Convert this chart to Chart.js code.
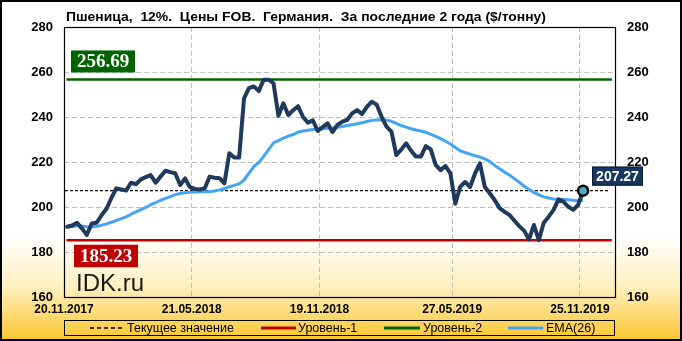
<!DOCTYPE html>
<html><head><meta charset="utf-8">
<script src="https://cdn.jsdelivr.net/npm/chart.js@4.4.0/dist/chart.umd.min.js"></script>
<style>html,body{margin:0;padding:0;background:#fff;overflow:hidden;}</style>
</head><body>
<canvas id="c" width="682" height="341"></canvas>
<script>
const titleText = 'Пшеница,  12%.  Цены FOB.  Германия.  За последние 2 года ($/тонну)';
const tickDays = [0, 182, 364, 553, 735];
const tickLabels = ['20.11.2017', '21.05.2018', '19.11.2018', '27.05.2019', '25.11.2019'];
const firstPointDay = 4.5;
const stepDays = 7;
const price = [
  191.2, 191.8, 193.0, 190.5, 187.6, 192.7, 193.0, 196.3, 199.2, 204.0,
  208.3, 207.8, 207.3, 210.8, 210.1, 212.3, 213.3, 214.2, 210.8, 213.5,
  216.1, 215.5, 215.0, 209.8, 212.7, 208.8, 208.0, 207.8, 208.3, 213.5,
  213.0, 212.8, 210.5, 223.9, 222.0, 222.0, 248.3, 252.8, 253.6, 251.5,
  256.6, 256.6, 255.0, 240.5, 246.1, 240.9, 243.0, 244.8, 240.0, 237.5,
  238.5, 233.8, 235.5, 237.2, 233.3, 236.5, 237.9, 238.7, 241.6, 243.1,
  241.3, 244.5, 246.8, 245.5, 240.1, 235.7, 233.5, 223.1, 225.5, 228.3,
  225.0, 222.4, 222.4, 227.1, 225.6, 218.7, 216.4, 218.2, 214.9, 201.5,
  209.0, 211.1, 208.9, 214.8, 219.4, 209.0, 206.1, 203.1, 199.5, 197.9,
  196.5, 194.0, 191.5, 189.5, 185.6, 192.0, 185.3, 193.0, 195.7, 198.7,
  203.4, 202.4, 200.1, 198.7, 200.9, 207.27
];
const ema = [
  191.2, 191.3, 191.6, 191.6, 191.2, 191.1, 191.4, 191.9, 192.5, 193.2,
  194.0, 194.8, 195.6, 196.8, 197.8, 198.8, 199.8, 201.0, 201.9, 203.0,
  203.8, 204.6, 205.5, 206.0, 206.3, 206.5, 206.7, 206.8, 206.8, 206.8,
  207.1, 207.6, 208.2, 209.0, 209.6, 210.3, 212.0, 215.0, 218.0, 219.8,
  222.5, 225.5, 228.5, 229.5, 230.6, 231.5, 232.2, 233.3, 233.8, 234.1,
  234.4, 234.6, 234.8, 235.0, 235.1, 235.4, 235.8, 236.2, 236.6, 237.0,
  237.4, 238.0, 238.5, 238.7, 238.8, 238.6, 238.1, 237.2, 236.2, 235.5,
  234.8, 234.2, 233.8, 233.2, 232.3, 231.4, 230.4, 229.2, 228.0, 226.4,
  225.0, 224.2, 223.5, 222.8, 222.2, 221.4, 220.2, 218.5, 217.0, 215.6,
  214.2, 212.6, 211.0, 209.3, 207.8, 206.5, 205.4, 204.5, 204.0, 203.6,
  203.4, 203.3, 203.2, 203.0, 202.8, 203.0
];
const level1 = 185.23;
const level2 = 256.69;
const currentValue = 207.27;
const yMin = 160, yMax = 280, yStep = 20;
const legendLabels = ['Текущее значение', 'Уровень-1', 'Уровень-2', 'EMA(26)'];

const xAt = i => firstPointDay + stepDays * i;
const lvlStart = 3.5, lvlEnd = 780.5;

const decor = {
  id: 'decor',
  beforeDraw(chart) {
    const ctx = chart.ctx, W = chart.width, H = chart.height;
    ctx.save();
    const g = ctx.createLinearGradient(0, 0, 0, H);
    g.addColorStop(0, '#ffffff');
    g.addColorStop(0.69, '#ffffff');
    g.addColorStop(0.84, '#fff0c0');
    g.addColorStop(1, '#fbc52b');
    ctx.fillStyle = g;
    ctx.fillRect(0, 0, W, H);
    ctx.restore();
  },
  afterDraw(chart) {
    const ctx = chart.ctx, a = chart.chartArea, ys = chart.scales.y;
    ctx.save();
    ctx.strokeStyle = '#000'; ctx.lineWidth = 1.2; ctx.setLineDash([]);
    ctx.strokeRect(Math.round(a.left) + 0.5, Math.round(a.top) + 0.5, Math.round(a.right - a.left), Math.round(a.bottom - a.top));
    ctx.lineWidth = 2;
    ctx.strokeRect(1, 1, chart.width - 2, chart.height - 2);
    ctx.fillStyle = '#000';
    ctx.font = 'bold 13px "Liberation Sans"';
    ctx.textBaseline = 'alphabetic'; ctx.textAlign = 'left';
    const tw = ctx.measureText(titleText).width;
    ctx.save(); ctx.translate(66, 20.5); ctx.scale(480 / tw, 1);
    ctx.fillText(titleText, 0, 0); ctx.restore();
    ctx.font = '24px "Liberation Sans"'; ctx.fillStyle = '#1a1a1a';
    ctx.fillText('IDK.ru', 76, 291);
    const box = (x, y, w, h, fill, text, font, stroke) => {
      ctx.fillStyle = fill; ctx.fillRect(x, y, w, h);
      if (stroke) { ctx.strokeStyle = stroke; ctx.lineWidth = 1; ctx.strokeRect(x + 0.5, y + 0.5, w - 1, h - 1); }
      ctx.fillStyle = '#fff'; ctx.font = font; ctx.textAlign = 'center'; ctx.textBaseline = 'middle';
      ctx.fillText(text, x + w / 2, y + h / 2 + 1);
    };
    const p2 = ys.getPixelForValue(level2);
    box(71, p2 - 29, 64, 22, '#006400', level2.toFixed(2), 'bold 19px "Liberation Serif"');
    const p1 = ys.getPixelForValue(level1);
    box(74, p1 + 4.5, 64, 22.5, '#c00000', level1.toFixed(2), 'bold 19px "Liberation Serif"');
    const pc = ys.getPixelForValue(currentValue);
    box(592, pc - 24, 51, 19, '#17375e', currentValue.toFixed(2), 'bold 14px "Liberation Sans"', '#0a1a2e');
    ctx.textAlign = 'left'; ctx.textBaseline = 'middle';
    ctx.strokeStyle = '#000'; ctx.lineWidth = 1;
    ctx.strokeRect(64.5, 320.5, 550, 15);
    const ly = 328;
    const items = [
      {x0: 90, x1: 122, tx: 127, color: '#000', w: 1.3, dash: [4, 3]},
      {x0: 261, x1: 296, tx: 298, color: '#c00000', w: 3, dash: []},
      {x0: 384, x1: 420, tx: 423, color: '#006400', w: 3, dash: []},
      {x0: 508, x1: 543, tx: 546, color: '#45a5f5', w: 3, dash: []}
    ];
    ctx.font = '12.5px "Liberation Sans"';
    items.forEach((it, k) => {
      ctx.beginPath(); ctx.setLineDash(it.dash); ctx.strokeStyle = it.color; ctx.lineWidth = it.w;
      ctx.moveTo(it.x0, ly); ctx.lineTo(it.x1, ly); ctx.stroke();
      ctx.setLineDash([]);
      ctx.fillStyle = '#000';
      ctx.fillText(legendLabels[k], it.tx, ly + 0.5);
    });
    ctx.restore();
  }
};

const tickFont = {family: 'Liberation Sans', weight: 'bold', size: 13};

new Chart(document.getElementById('c'), {
  type: 'line',
  data: {
    datasets: [
      {
        label: 'Цена', data: price.map((v, i) => ({x: xAt(i), y: v})),
        borderColor: '#1f3a5c', borderWidth: 4, tension: 0,
        borderJoinStyle: 'round', borderCapStyle: 'round',
        pointRadius: c => c.dataIndex === price.length - 1 ? 5 : 0,
        pointHoverRadius: 0,
        pointBackgroundColor: '#4bacc6', pointBorderColor: '#000', pointBorderWidth: 2.5,
        order: 1, yAxisID: 'y'
      },
      {
        label: legendLabels[3], data: ema.map((v, i) => ({x: xAt(i), y: v})),
        borderColor: '#45a5f5', borderWidth: 3, tension: 0, pointRadius: 0,
        borderJoinStyle: 'round', order: 2, yAxisID: 'y'
      },
      {
        label: legendLabels[0], data: [{x: 1.4, y: currentValue}, {x: 777.5, y: currentValue}],
        borderColor: '#000', borderWidth: 1.2, borderDash: [3, 2], pointRadius: 0, order: 3, yAxisID: 'y'
      },
      {
        label: legendLabels[1], data: [{x: lvlStart, y: level1}, {x: lvlEnd, y: level1}],
        borderColor: '#c00000', borderWidth: 2.5, pointRadius: 0, order: 4, yAxisID: 'y'
      },
      {
        label: legendLabels[2], data: [{x: lvlStart, y: level2}, {x: lvlEnd, y: level2}],
        borderColor: '#006400', borderWidth: 2.5, pointRadius: 0, order: 5, yAxisID: 'y'
      }
    ]
  },
  options: {
    responsive: false, animation: false, devicePixelRatio: 1,
    layout: {padding: {top: 27, left: 0, right: 0, bottom: 0}},
    plugins: {legend: {display: false}, title: {display: false}, tooltip: {enabled: false}},
    events: [],
    scales: {
      x: {
        type: 'linear', min: 0, max: 785,
        afterBuildTicks: s => { s.ticks = tickDays.map(v => ({value: v})); },
        afterFit: s => { s.height = 44; },
        ticks: {
          callback: (v, i) => tickLabels[i], autoSkip: false, maxRotation: 0,
          font: {family: 'Liberation Sans', weight: 'bold', size: 12}, color: '#000', padding: 5
        },
        grid: {color: '#c0c0c0', lineWidth: 1, drawTicks: false},
        border: {display: false, dash: [5, 3]}
      },
      y: {
        type: 'linear', position: 'left', min: yMin, max: yMax,
        afterFit: s => { s.width = 64; },
        ticks: {stepSize: yStep, font: tickFont, color: '#000', padding: 11},
        grid: {color: '#c0c0c0', lineWidth: 1, drawTicks: false},
        border: {display: false, dash: [5, 3]}
      },
      y2: {
        type: 'linear', position: 'right', min: yMin, max: yMax,
        afterFit: s => { s.width = 67; },
        ticks: {stepSize: yStep, font: tickFont, color: '#000', padding: 12},
        grid: {display: false, drawTicks: false},
        border: {display: false}
      }
    }
  },
  plugins: [decor]
});
</script>
</body></html>
